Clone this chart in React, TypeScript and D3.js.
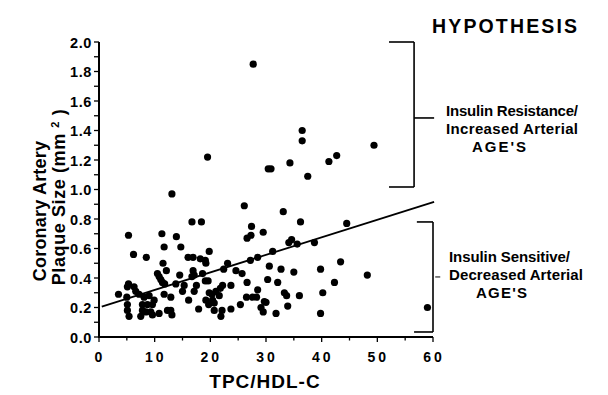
import React from "react";
import * as d3 from "d3";

// ---- Data (TPC/HDL-C vs coronary artery plaque size, mm^2) ----
const tpc: number[] = [
  5.3, 11.3, 11.7, 6.2, 8.5, 11.5, 12.1, 10.5, 10.8, 11.1, 11.4, 11.8, 5.3, 5.1, 6.3, 6.6, 7.2, 3.5, 5.0, 8.1,
  9.0, 9.9, 11.7, 5.1, 5.1, 5.4, 7.8, 7.8, 7.5, 8.7, 9.6, 9.3, 8.4, 9.6, 10.8, 12.3, 12.9, 13.1, 13.1,
  16.7, 18.4, 13.9, 14.7, 19.8, 16.0, 16.9, 18.2, 19.1, 19.2, 23.1, 22.4, 16.9, 17.1, 18.6, 24.6, 25.7, 14.5, 16.7,
  13.8, 15.3, 19.1, 19.6, 17.5, 22.2, 21.8, 23.7, 17.1, 15.0, 21.0, 21.6, 19.8, 20.3, 19.2, 20.4, 20.7, 12.9,
  16.1, 17.9, 19.7, 20.7, 22.1, 21.9, 23.7, 25.4, 26.1, 19.5,
  27.7, 36.5, 36.5, 49.4, 30.4, 30.9, 34.3, 41.3, 42.7, 37.5, 33.1, 36.2, 44.5, 27.4, 27.3, 26.6, 29.5, 34.1,
  34.6, 35.6, 38.7, 31.2, 28.5, 27.2, 43.4, 30.6, 32.7, 35.0, 39.8, 48.2, 30.3, 32.1, 42.3, 26.6, 28.5, 26.5,
  27.6, 28.3, 33.3, 33.7, 36.0, 40.2, 29.7, 30.0, 29.1, 29.5, 31.8, 33.9, 39.8, 59.0,
];
const plaque: number[] = [
  0.69, 0.70, 0.61, 0.56, 0.54, 0.50, 0.45, 0.43, 0.41, 0.39, 0.37, 0.36, 0.36, 0.34, 0.34, 0.31, 0.29, 0.29, 0.27, 0.27,
  0.28, 0.25, 0.29, 0.22, 0.18, 0.14, 0.22, 0.18, 0.14, 0.22, 0.22, 0.17, 0.17, 0.15, 0.16, 0.18, 0.18, 0.15, 0.97,
  0.78, 0.78, 0.68, 0.61, 0.58, 0.54, 0.54, 0.53, 0.52, 0.50, 0.50, 0.46, 0.45, 0.42, 0.43, 0.45, 0.43, 0.42, 0.41,
  0.36, 0.35, 0.38, 0.38, 0.35, 0.35, 0.33, 0.35, 0.31, 0.31, 0.31, 0.28, 0.30, 0.29, 0.25, 0.25, 0.23, 0.27,
  0.25, 0.19, 0.22, 0.18, 0.18, 0.14, 0.19, 0.22, 0.89, 1.22,
  1.85, 1.40, 1.33, 1.30, 1.14, 1.14, 1.18, 1.19, 1.23, 1.09, 0.85, 0.78, 0.77, 0.75, 0.69, 0.67, 0.71, 0.64,
  0.66, 0.63, 0.64, 0.58, 0.54, 0.52, 0.51, 0.48, 0.46, 0.44, 0.46, 0.42, 0.39, 0.37, 0.37, 0.37, 0.32, 0.27,
  0.27, 0.27, 0.30, 0.28, 0.28, 0.30, 0.24, 0.235, 0.20, 0.17, 0.16, 0.21, 0.16, 0.20,
];

// Regression line endpoints
const fitX: number[] = [0.5, 60.2];
const fitY: number[] = [0.206, 0.916];

// Axis ticks
const xTickLabels: number[] = [0, 10, 20, 30, 40, 50, 60];
const xMinorTicks: number[] = [0, 5, 10, 15, 20, 25, 30, 35, 40, 45, 50, 55, 60];
const yTickLabels: number[] = [0, 0.2, 0.4, 0.6, 0.8, 1.0, 1.2, 1.4, 1.6, 1.8, 2.0];
const yMinorTicks: number[] = [0, 0.1, 0.2, 0.3, 0.4, 0.5, 0.6, 0.7, 0.8, 0.9, 1.0, 1.1, 1.2, 1.3, 1.4, 1.5, 1.6, 1.7, 1.8, 1.9, 2.0];

// Hypothesis brackets (data units)
const upperBracketX: number[] = [52.1, 56.6, 60.2]; // left end, spine, tick end
const upperBracketY: number[] = [2.0, 1.485, 1.017]; // top, tick, bottom
const lowerBracketX: number[] = [57.1, 56.6, 60.0, 60.4, 61.3]; // top-left, bottom-left, spine, tick start, tick end
const lowerBracketY: number[] = [0.78, 0.407, 0.034];

const upperLabel: string[] = ["Insulin  Resistance/", "Increased  Arterial", "AGE'S"];
const lowerLabel: string[] = ["Insulin  Sensitive/", "Decreased  Arterial", "AGE'S"];

const FONT = "'Liberation Sans', Arial, Helvetica, sans-serif";

export default function App() {
  const W = 608;
  const H = 395;
  const x = d3.scaleLinear().domain([0, 60]).range([99, 433]);
  const y = d3.scaleLinear().domain([0, 2]).range([337, 42]);
  const fitLine = d3
    .line<number>()
    .x((d) => x(fitX[d]))
    .y((d) => y(fitY[d]));

  const pts = tpc.map((v, i) => ({ x: v, y: plaque[i] }));

  return (
    <div style={{ position: "absolute", left: 0, top: 0 }}>
      <svg width={W} height={H} viewBox={`0 0 ${W} ${H}`} style={{ display: "block", background: "#fff" }}>
        <rect width={W} height={H} fill="#fff" />
        {/* axes */}
        <line x1={x(0)} x2={x(0)} y1={y(2)} y2={y(0) + 1} stroke="#000" strokeWidth={2} />
        <line x1={x(0) - 1} x2={x(60)} y1={y(0)} y2={y(0)} stroke="#000" strokeWidth={2} />
        {yMinorTicks.map((t) => (
          <line key={"yt" + t} x1={x(0) - 5} x2={x(0)} y1={y(t)} y2={y(t)} stroke="#000" strokeWidth={1.3} />
        ))}
        {xMinorTicks.map((t) => (
          <line
            key={"xt" + t}
            x1={x(t)}
            x2={x(t)}
            y1={y(0)}
            y2={y(0) + (t % 10 === 0 ? 5 : 3.5)}
            stroke="#000"
            strokeWidth={1.3}
          />
        ))}
        {yTickLabels.map((t) => (
          <text
            key={"yl" + t}
            x={92}
            y={y(t) + 5.5}
            textAnchor="end"
            fontFamily={FONT}
            fontWeight="bold"
            fontSize={14.5}
            letterSpacing={0.6}
          >
            {t.toFixed(1)}
          </text>
        ))}
        {xTickLabels.map((t) => (
          <text
            key={"xl" + t}
            x={x(t) + 1}
            y={362}
            textAnchor="middle"
            fontFamily={FONT}
            fontWeight="bold"
            fontSize={14}
            letterSpacing={3}
          >
            {t}
          </text>
        ))}
        {/* axis titles */}
        <text x={265} y={388} textAnchor="middle" fontFamily={FONT} fontWeight="bold" fontSize={19} letterSpacing={1}>
          TPC/HDL-C
        </text>
        <g transform="translate(46,211) rotate(-90)">
          <text textAnchor="middle" fontFamily={FONT} fontWeight="bold" fontSize={18} letterSpacing={0.2}>
            Coronary Artery
          </text>
        </g>
        <g transform="translate(64.5,197) rotate(-90)">
          <text textAnchor="middle" fontFamily={FONT} fontWeight="bold" fontSize={18} letterSpacing={0.6} style={{ whiteSpace: "pre" }}>
            {"Plaque Size (mm "}
            <tspan fontSize={11} dy={-6}>
              2
            </tspan>
            <tspan dy={6}>{" )"}</tspan>
          </text>
        </g>
        {/* regression line */}
        <path d={fitLine([0, 1]) || ""} fill="none" stroke="#000" strokeWidth={1.8} />
        {/* points */}
        {pts.map((p, i) => (
          <circle key={i} cx={x(p.x)} cy={y(p.y)} r={3.6} fill="#000" />
        ))}
        {/* upper bracket */}
        <g stroke="#000" strokeWidth={1.6} fill="none">
          <line x1={x(upperBracketX[0])} x2={x(upperBracketX[1])} y1={y(upperBracketY[0])} y2={y(upperBracketY[0])} />
          <line x1={x(upperBracketX[1])} x2={x(upperBracketX[1])} y1={y(upperBracketY[0])} y2={y(upperBracketY[2])} />
          <line x1={x(upperBracketX[0])} x2={x(upperBracketX[1])} y1={y(upperBracketY[2])} y2={y(upperBracketY[2])} />
          <line x1={x(upperBracketX[1])} x2={x(upperBracketX[2])} y1={y(upperBracketY[1])} y2={y(upperBracketY[1])} />
          {/* lower bracket */}
          <line x1={x(lowerBracketX[0])} x2={x(lowerBracketX[2])} y1={y(lowerBracketY[0])} y2={y(lowerBracketY[0])} />
          <line x1={x(lowerBracketX[2])} x2={x(lowerBracketX[2])} y1={y(lowerBracketY[0])} y2={y(lowerBracketY[2])} />
          <line x1={x(lowerBracketX[1])} x2={x(lowerBracketX[2])} y1={y(lowerBracketY[2])} y2={y(lowerBracketY[2])} />
          <line x1={x(lowerBracketX[3])} x2={x(lowerBracketX[4])} y1={y(lowerBracketY[1])} y2={y(lowerBracketY[1])} strokeWidth={1} />
        </g>
        {/* annotations */}
        <text x={432} y={33} fontFamily={FONT} fontWeight="bold" fontSize={19.5} textLength={145} lengthAdjust="spacing">
          HYPOTHESIS
        </text>
        <g fontFamily={FONT} fontWeight="bold" fontSize={15} style={{ whiteSpace: "pre" }}>
          <text x={446} y={116} textLength={132} lengthAdjust="spacing">{upperLabel[0]}</text>
          <text x={446} y={134} textLength={132} lengthAdjust="spacing">{upperLabel[1]}</text>
          <text x={472} y={152} textLength={54} lengthAdjust="spacing">{upperLabel[2]}</text>
          <text x={449} y={262} textLength={121} lengthAdjust="spacing">{lowerLabel[0]}</text>
          <text x={449} y={280} textLength={134} lengthAdjust="spacing">{lowerLabel[1]}</text>
          <text x={476} y={298} textLength={51} lengthAdjust="spacing">{lowerLabel[2]}</text>
        </g>
      </svg>
    </div>
  );
}
